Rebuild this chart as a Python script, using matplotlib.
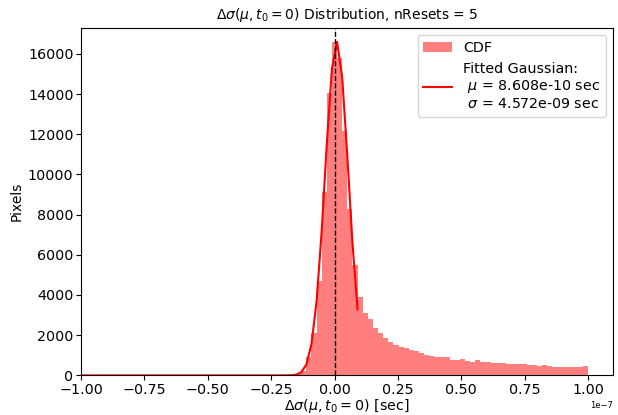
import numpy as np
import matplotlib
matplotlib.use('Agg')
import matplotlib.pyplot as plt

# histogram: 99 bins between -1e-7 and 1e-7 sec, counts
bin_lo = -1e-7
bin_hi = 1e-7
n_edges = 100
counts = [
    0, 0, 0, 0, 0, 0, 0, 0, 0, 0,
    0, 0, 0, 0, 0, 0, 0, 0, 0, 0,
    0, 0, 0, 0, 0, 0, 0, 0, 0, 0,
    0, 0, 0, 0, 0, 0, 0, 0, 0, 5,
    10, 20, 60, 230, 890, 2120, 4680, 9120, 14060, 16600,
    15800, 12160, 8300, 5500, 3890, 3110, 2780, 2370, 2120, 1880,
    1660, 1500, 1400, 1370, 1250, 1220, 1090, 1020, 955, 925,
    915, 890, 775, 775, 790, 725, 690, 740, 675, 675,
    640, 610, 595, 560, 545, 560, 545, 495, 525, 475,
    525, 460, 430, 430, 430, 410, 410, 410, 460,
]

# fitted gaussian (from the legend)
fit_mu = 8.608e-10
fit_sigma = 4.572e-09
fit_amp = 16600
fit_last_edge = 54

edges = np.linspace(bin_lo, bin_hi, n_edges)
centers = 0.5 * (edges[:-1] + edges[1:])

fig = plt.figure(figsize=(6.18, 4.15), dpi=100)
ax = fig.add_axes([0.1312, 0.0955, 0.8612, 0.8378])
plt.rcParams['font.size'] = 6.2

_, _, bars = ax.hist(centers, bins=edges, weights=counts, color='red', alpha=0.5)

x_fit = edges[:fit_last_edge + 1]
y_fit = fit_amp * np.exp(-0.5 * ((x_fit - fit_mu) / fit_sigma) ** 2)
line, = ax.plot(x_fit, y_fit, color='red', lw=1.5)

ax.axvline(0, color='black', ls='--', lw=1)

ax.set_xlim(-1e-7, 1.1e-7)
ax.set_ylim(0, 17300)
ax.tick_params(labelsize=10.3, pad=2)
ax.xaxis.get_offset_text().set_fontsize(6)

ax.set_title(r'$\Delta\sigma(\mu, t_0 = 0)$ Distribution, nResets = 5', fontsize=10)
ax.set_xlabel(r'$\Delta\sigma(\mu, t_0 = 0)$ [sec]', fontsize=10.3, labelpad=0)
ax.set_ylabel('Pixels', fontsize=10, labelpad=3)

fit_label = 'Fitted Gaussian:\n $\\mu$ = %.3e sec\n $\\sigma$ = %.3e sec' % (fit_mu, fit_sigma)
ax.legend([bars[0], line], ['CDF', fit_label], loc='upper right', fontsize=10.3)

fig.savefig('out.png', dpi=100)
